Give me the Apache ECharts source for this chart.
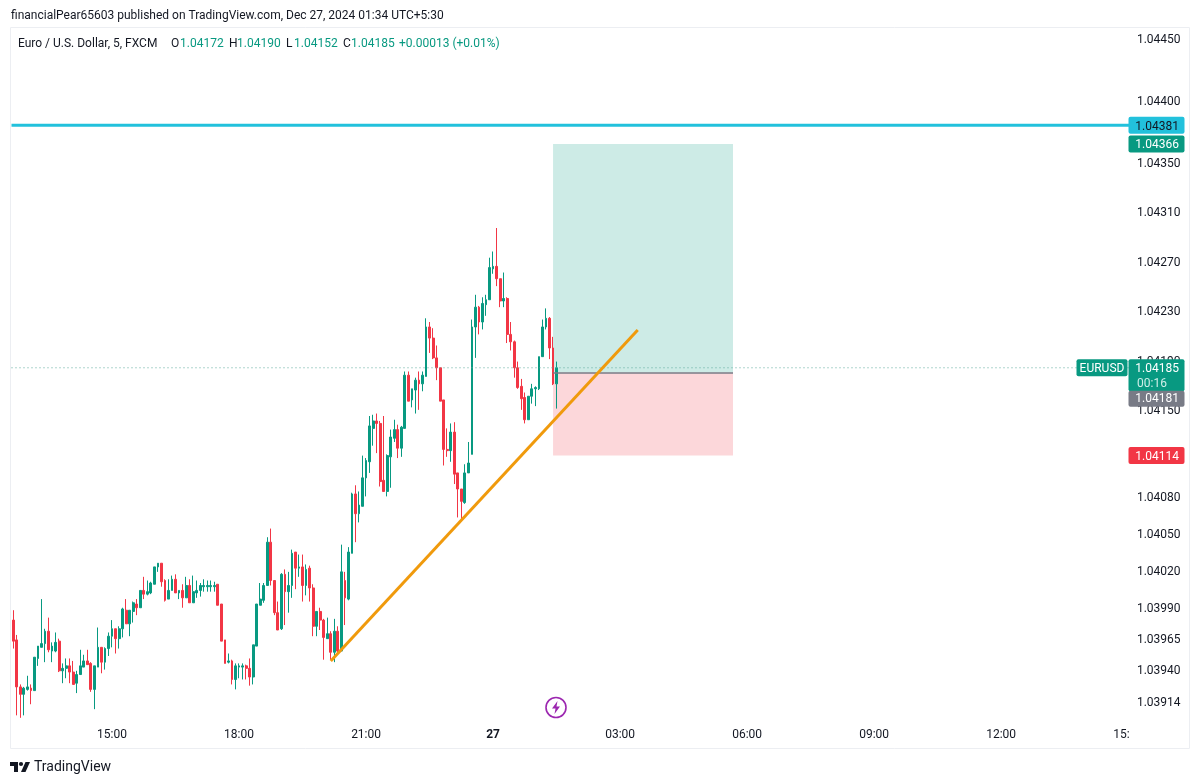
<!DOCTYPE html>
<html>
<head>
<meta charset="utf-8">
<title>EURUSD</title>
<style>
  html, body { margin: 0; padding: 0; background: #fff; }
  #chart { width: 1200px; height: 784px; }
  #chart canvas { filter: blur(0.45px); }
</style>
<script src="https://cdn.jsdelivr.net/npm/echarts@6/dist/echarts.min.js"></script>
</head>
<body>
<div id="chart"></div>
<script>
// 5 minute candles
const opens = [
  1.03981,1.03965,1.03927,1.03921,1.03925,1.03926,1.03924,1.03950,1.03959,1.03962,
  1.03972,1.03956,1.03956,1.03964,1.03940,1.03942,1.03944,1.03939,1.03930,1.03937,
  1.03943,1.03948,1.03946,1.03925,1.03943,1.03959,1.03947,1.03958,1.03968,1.03974,
  1.03966,1.03974,1.03989,1.03978,1.03988,1.03994,1.03991,1.04005,1.04002,1.04003,
  1.04010,1.04024,1.04027,1.04013,1.03998,1.04005,1.04014,1.04003,1.04005,1.03999,
  1.04009,1.03995,1.04003,1.04005,1.04008,1.04008,1.04008,1.04008,1.04010,1.03994,
  1.03965,1.03947,1.03948,1.03933,1.03943,1.03943,1.03944,1.03942,1.03935,1.03960,
  1.03993,1.03997,1.04009,1.04044,1.04013,1.03987,1.03974,1.04018,1.04004,1.04009,
  1.04036,1.04023,1.04024,1.04009,1.04023,1.04007,1.03976,1.03988,1.03981,1.03966,
  1.03970,1.03955,1.03972,1.03956,1.04013,1.03998,1.04035,1.04083,1.04067,1.04073,
  1.04096,1.04109,1.04136,1.04142,1.04140,1.04094,1.04085,1.04113,1.04128,1.04135,
  1.04120,1.04136,1.04179,1.04159,1.04167,1.04175,1.04172,1.04178,1.04218,1.04209,
  1.04193,1.04185,1.04159,1.04119,1.04118,1.04133,1.04100,1.04087,1.04076,1.04100,
  1.04115,1.04218,1.04234,1.04222,1.04236,1.04240,1.04265,1.04267,1.04257,1.04239,
  1.04241,1.04212,1.04206,1.04185,1.04170,1.04161,1.04143,1.04162,1.04168,1.04168,
  1.04194,1.04218,1.04225,1.04201,1.04172
];
const closes = [
  1.03964,1.03927,1.03921,1.03926,1.03927,1.03924,1.03951,1.03960,1.03962,1.03972,
  1.03957,1.03960,1.03963,1.03940,1.03942,1.03944,1.03939,1.03929,1.03937,1.03944,
  1.03948,1.03945,1.03925,1.03944,1.03959,1.03947,1.03958,1.03968,1.03974,1.03966,
  1.03974,1.03990,1.03978,1.03989,1.03995,1.03991,1.04005,1.04002,1.04004,1.04011,
  1.04024,1.04027,1.04012,1.03997,1.04005,1.04014,1.04003,1.04005,1.03999,1.04009,
  1.03995,1.04004,1.04005,1.04009,1.04009,1.04009,1.04009,1.04009,1.03993,1.03964,
  1.03946,1.03948,1.03933,1.03944,1.03944,1.03944,1.03942,1.03935,1.03961,1.03994,
  1.03998,1.04009,1.04044,1.04013,1.03987,1.03973,1.04018,1.04004,1.04009,1.04035,
  1.04023,1.04024,1.04009,1.04022,1.04007,1.03976,1.03988,1.03981,1.03967,1.03970,
  1.03955,1.03972,1.03956,1.04020,1.03999,1.04036,1.04083,1.04067,1.04074,1.04096,
  1.04110,1.04138,1.04142,1.04140,1.04093,1.04085,1.04114,1.04129,1.04135,1.04120,
  1.04137,1.04179,1.04158,1.04168,1.04175,1.04172,1.04179,1.04218,1.04209,1.04193,
  1.04185,1.04158,1.04119,1.04118,1.04133,1.04099,1.04087,1.04077,1.04100,1.04108,
  1.04218,1.04234,1.04222,1.04237,1.04240,1.04266,1.04267,1.04257,1.04239,1.04241,
  1.04212,1.04206,1.04185,1.04169,1.04160,1.04143,1.04162,1.04168,1.04169,1.04194,
  1.04218,1.04225,1.04201,1.04172,1.04185
];
const lows = [
  1.03958,1.03904,1.03902,1.03904,1.03924,1.03913,1.03924,1.03944,1.03959,1.03947,
  1.03955,1.03947,1.03955,1.03939,1.03930,1.03934,1.03930,1.03929,1.03922,1.03937,
  1.03943,1.03945,1.03923,1.03909,1.03943,1.03938,1.03941,1.03952,1.03959,1.03954,
  1.03958,1.03967,1.03978,1.03968,1.03979,1.03985,1.03991,1.03998,1.04001,1.04002,
  1.04010,1.04020,1.04008,1.03996,1.03998,1.04005,1.04003,1.03998,1.03991,1.03999,
  1.03995,1.03995,1.03999,1.04000,1.04004,1.04004,1.04004,1.04004,1.03993,1.03964,
  1.03946,1.03946,1.03929,1.03925,1.03934,1.03933,1.03933,1.03928,1.03929,1.03960,
  1.03993,1.03995,1.04009,1.04009,1.03985,1.03973,1.03973,1.03977,1.03987,1.03999,
  1.04006,1.04016,1.03996,1.04001,1.03996,1.03968,1.03968,1.03973,1.03949,1.03966,
  1.03949,1.03947,1.03954,1.03956,1.03977,1.03997,1.04035,1.04044,1.04060,1.04073,
  1.04081,1.04100,1.04122,1.04116,1.04089,1.04085,1.04081,1.04088,1.04125,1.04112,
  1.04113,1.04136,1.04158,1.04153,1.04148,1.04151,1.04166,1.04178,1.04197,1.04192,
  1.04175,1.04158,1.04106,1.04113,1.04109,1.04091,1.04064,1.04061,1.04075,1.04100,
  1.04115,1.04193,1.04212,1.04216,1.04227,1.04240,1.04261,1.04251,1.04234,1.04234,
  1.04205,1.04199,1.04177,1.04168,1.04151,1.04140,1.04143,1.04156,1.04154,1.04167,
  1.04194,1.04216,1.04192,1.04171,1.04152
];
const highs = [
  1.03989,1.03969,1.03929,1.03927,1.03936,1.03929,1.03951,1.03960,1.03998,1.03974,
  1.03983,1.03963,1.03971,1.03966,1.03946,1.03950,1.03950,1.03948,1.03940,1.03957,
  1.03953,1.03957,1.03947,1.03944,1.03975,1.03959,1.03959,1.03971,1.03981,1.03974,
  1.03976,1.03991,1.03998,1.03989,1.03996,1.03998,1.04005,1.04016,1.04013,1.04012,
  1.04024,1.04027,1.04027,1.04014,1.04014,1.04017,1.04018,1.04005,1.04010,1.04016,
  1.04014,1.04017,1.04013,1.04011,1.04014,1.04013,1.04013,1.04012,1.04010,1.03994,
  1.03965,1.03954,1.03949,1.03946,1.03946,1.03946,1.03945,1.03950,1.03961,1.03994,
  1.04011,1.04011,1.04048,1.04055,1.04013,1.03996,1.04019,1.04022,1.04020,1.04038,
  1.04036,1.04034,1.04034,1.04026,1.04025,1.04010,1.03988,1.03991,1.03982,1.03983,
  1.03972,1.03982,1.03976,1.04042,1.04020,1.04040,1.04084,1.04090,1.04085,1.04114,
  1.04112,1.04146,1.04147,1.04148,1.04142,1.04146,1.04115,1.04135,1.04143,1.04139,
  1.04138,1.04182,1.04182,1.04168,1.04177,1.04182,1.04182,1.04225,1.04222,1.04217,
  1.04203,1.04185,1.04159,1.04136,1.04140,1.04141,1.04100,1.04087,1.04107,1.04125,
  1.04224,1.04244,1.04235,1.04242,1.04244,1.04274,1.04279,1.04298,1.04257,1.04262,
  1.04242,1.04222,1.04207,1.04190,1.04176,1.04165,1.04162,1.04172,1.04170,1.04194,
  1.04224,1.04233,1.04226,1.04210,1.04190
];

const priceTicks = [1.0445,1.044,1.0435,1.0431,1.0427,1.0423,1.0419,1.0415,1.0411,1.0408,1.0405,1.0402,1.0399,1.03965,1.0394,1.03914];
// bar number -> label on the time scale
const timeTickBars = [28,64,100,136,172,208,244,280,316];
const timeTickLabels = ['15:00','18:00','21:00','27','03:00','06:00','09:00','12:00','15:00'];

const lastPrice = 1.04185;
const targetPrice = 1.04366;
const entryPrice = 1.04181;
const stopPrice = 1.04114;
const resistancePrice = 1.04381;
const positionBars = [153,204];
const trendBars = [90,177];
const trendPrices = [1.03948,1.042155];

const BAR_COUNT = 317; // includes the empty space on the right
const up = '#089981', down = '#f23645';
const FONT = 'Roboto, "Liberation Sans", sans-serif';

const barIds = [];
for (let i = 0; i < BAR_COUNT; i++) barIds.push(String(i));
const candles = opens.map((o, i) => [o, closes[i], lows[i], highs[i]]);

// full width horizontal on the hidden value x axis, so it starts at the panel edge
function hline(price, style) {
  return {
    type: 'line',
    xAxisIndex: 1,
    silent: true,
    symbol: 'none',
    lineStyle: style,
    data: [[-0.5, price], [BAR_COUNT - 0.5, price]]
  };
}

const chart = echarts.init(document.getElementById('chart'));

chart.setOption({
  animation: false,
  backgroundColor: '#fff',
  grid: { left: 11.5, top: 27, width: 1118.4, height: 698, containLabel: false },
  xAxis: [{
    type: 'category',
    data: barIds,
    boundaryGap: true,
    axisLine: { show: false },
    axisTick: { show: false },
    splitLine: { show: false },
    axisLabel: {
      margin: 4,
      color: '#131722',
      fontFamily: FONT,
      fontSize: 12,
      interval: (idx) => timeTickBars.indexOf(idx) >= 0,
      formatter: (val) => {
        const t = timeTickLabels[timeTickBars.indexOf(Number(val))];
        return t === '27' ? '{b|27}' : t;
      },
      rich: { b: { fontWeight: 'bold', fontSize: 12, color: '#131722', fontFamily: FONT } }
    }
  }, {
    type: 'value',
    show: false,
    min: -0.5,
    max: BAR_COUNT - 0.5
  }],
  yAxis: {
    type: 'value',
    position: 'right',
    min: 1.038962,
    max: 1.044605,
    axisLine: { show: false },
    axisTick: { show: false },
    splitLine: { show: false },
    axisLabel: {
      customValues: priceTicks,
      margin: 7,
      padding: [3, 0, 0, 0],
      color: '#131722',
      fontFamily: FONT,
      fontSize: 12,
      formatter: (v) => v.toFixed(5)
    }
  },
  series: [
    hline(lastPrice, { color: '#5fa99c', type: [1, 3], width: 1 }),
    hline(resistancePrice, { color: '#22c1dc', type: 'solid', width: 3 }),
    {
      type: 'candlestick',
      data: candles,
      barWidth: 2.3,
      clip: false,
      itemStyle: { color: up, color0: down, borderColor: up, borderColor0: down, borderWidth: 1 },
      markArea: {
        silent: true,
        data: [
          [{ coord: [positionBars[0], targetPrice], itemStyle: { color: '#cdebe6' } }, { coord: [positionBars[1], entryPrice] }],
          [{ coord: [positionBars[0], entryPrice], itemStyle: { color: '#fcd7da' } }, { coord: [positionBars[1], stopPrice] }]
        ]
      },
      markLine: {
        silent: true,
        symbol: 'none',
        label: { show: false },
        data: [
          [{ coord: [positionBars[0], entryPrice], lineStyle: { color: '#787b86', type: 'solid', width: 1.5 } }, { coord: [positionBars[1], entryPrice] }],
          [{ coord: [trendBars[0], trendPrices[0]], lineStyle: { color: '#f09a0c', type: 'solid', width: 3 } }, { coord: [trendBars[1], trendPrices[1]] }]
        ]
      }
    }
  ]
});

const priceY = (p) => chart.convertToPixel({ yAxisIndex: 0 }, p);

function label(x, y, text, color, opt) {
  opt = opt || {};
  return {
    type: 'text',
    z: opt.z || 100,
    silent: true,
    style: {
      x: x, y: y, text: text, fill: color,
      font: (opt.weight || '') + ' ' + (opt.size || 12) + 'px ' + FONT,
      align: opt.align || 'left',
      verticalAlign: 'middle'
    }
  };
}
function box(x, y, w, h, color, z) {
  return { type: 'rect', z: z || 90, silent: true, shape: { x: x, y: y, width: w, height: h, r: 2 }, style: { fill: color } };
}
function priceTag(cy, color, text, textColor) {
  return [box(1128.5, cy - 8.5, 56, 17, color), label(1179, cy + 1.5, text, textColor, { align: 'right' })];
}

const yLast = priceY(lastPrice);
const graphics = [
  // panel outline, and the strip that cuts the last time label at the price scale
  { type: 'rect', z: -1, silent: true, shape: { x: 10.5, y: 27.5, width: 1179, height: 721 }, style: { fill: 'none', stroke: '#eceef2', lineWidth: 1 } },
  { type: 'rect', z: 80, silent: true, shape: { x: 1129, y: 726, width: 50, height: 20 }, style: { fill: '#fff' } },

  label(11, 16, 'financialPear65603 published on TradingView.com, Dec 27, 2024 01:34 UTC+5:30', '#131722'),
  label(18, 43.5, 'Euro / U.S. Dollar, 5, FXCM', '#131722'),
  label(171, 43.5, 'O', '#131722'), label(180, 43.5, '1.04172', up),
  label(229, 43.5, 'H', '#131722'), label(237, 43.5, '1.04190', up),
  label(286, 43.5, 'L', '#131722'), label(294, 43.5, '1.04152', up),
  label(343, 43.5, 'C', '#131722'), label(351, 43.5, '1.04185', up),
  label(399, 43.5, '+0.00013 (+0.01%)', up),

  ...priceTag(priceY(resistancePrice), '#22c1dc', '1.04381', '#131722'),
  ...priceTag(priceY(targetPrice), up, '1.04366', '#fff'),
  ...priceTag(priceY(stopPrice), down, '1.04114', '#fff'),

  // last price block with countdown, entry tag is pushed below it
  box(1076.5, yLast - 8.5, 51, 17, up),
  label(1102, yLast + 1, 'EURUSD', '#fff', { align: 'center' }),
  box(1128.5, yLast - 8.5, 56, 32, up),
  label(1179, yLast + 1, '1.04185', '#fff', { align: 'right' }),
  label(1137, yLast + 16, '00:16', '#cfeee8'),
  box(1128.5, yLast + 23, 56, 16, '#787b86', 91),
  label(1179, yLast + 31.5, '1.04181', '#fff', { align: 'right', z: 101 }),

  // lightning marker
  { type: 'circle', z: 70, silent: true, shape: { cx: 556, cy: 707.5, r: 10 }, style: { fill: '#fff', stroke: '#9c27b0', lineWidth: 1.6 } },
  { type: 'polygon', z: 71, silent: true, shape: { points: [[557.5, 701], [552, 708.5], [555.5, 708.5], [554.5, 714], [560, 706.5], [556.5, 706.5]] }, style: { fill: '#9c27b0' } },

  // footer logo
  { type: 'polygon', z: 70, silent: true, shape: { points: [[10, 762], [18, 762], [18, 772], [14, 772], [14, 766], [10, 766]] }, style: { fill: '#131722' } },
  { type: 'polygon', z: 70, silent: true, shape: { points: [[25.5, 762], [30, 762], [25.5, 772], [21, 772]] }, style: { fill: '#131722' } },
  { type: 'circle', z: 70, silent: true, shape: { cx: 21, cy: 764, r: 2.1 }, style: { fill: '#131722' } },
  label(34, 767, 'TradingView', '#131722', { size: 14 })
];
chart.setOption({ graphic: graphics });
</script>
</body>
</html>
